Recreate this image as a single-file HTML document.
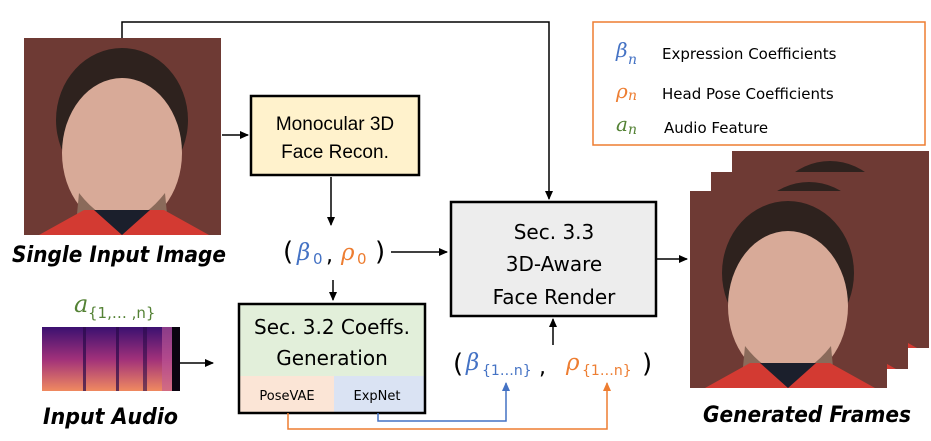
<!DOCTYPE html>
<html><head><meta charset="utf-8"><style>
html,body{margin:0;padding:0;background:#fff;}
svg{display:block;}
text{font-family:"Liberation Sans",sans-serif;}
.c{font-family:"DejaVu Sans","Liberation Sans",sans-serif;}
.m{font-family:"DejaVu Serif","Liberation Serif",serif;font-style:italic;}
</style></head><body>
<svg width="931" height="441" viewBox="0 0 931 441" xmlns="http://www.w3.org/2000/svg">
<defs>
<marker id="ab" markerWidth="10" markerHeight="10" refX="8" refY="4" orient="auto" markerUnits="userSpaceOnUse"><path d="M0,0 L9,4 L0,8 z" fill="#000"/></marker>
<marker id="abl" markerWidth="10" markerHeight="10" refX="8" refY="4" orient="auto" markerUnits="userSpaceOnUse"><path d="M0,0 L9,4 L0,8 z" fill="#4472c4"/></marker>
<marker id="aor" markerWidth="10" markerHeight="10" refX="8" refY="4" orient="auto" markerUnits="userSpaceOnUse"><path d="M0,0 L9,4 L0,8 z" fill="#ed7d31"/></marker>
<linearGradient id="sp" x1="0" y1="0" x2="0" y2="1"><stop offset="0" stop-color="#3b1070"/><stop offset="0.5" stop-color="#a0307a"/><stop offset="1" stop-color="#f08a60"/></linearGradient>
<g id="face">
<rect x="0" y="0" width="197" height="197" fill="#6e3a34"/>
<ellipse cx="98" cy="82" rx="66" ry="72" fill="#2e221e"/>
<ellipse cx="98" cy="115" rx="60" ry="75" fill="#d8aa98"/>
<path d="M55,155 Q98,210 141,155 L145,197 L51,197 z" fill="#8a6a5a"/>
<path d="M15,197 L60,172 L140,172 L185,197 z" fill="#d33a32"/>
<path d="M70,172 L98,197 L126,172 z" fill="#1b1f2c"/>
</g>
</defs>

<use href="#face" x="24" y="38"/>
<text x="12" y="262" font-size="22" font-weight="bold" font-style="italic" class="c" textLength="214" lengthAdjust="spacingAndGlyphs">Single Input Image</text>

<polyline points="122,38 122,22 549,22 549,199" fill="none" stroke="#000" stroke-width="1.5" marker-end="url(#ab)"/>

<line x1="222" y1="135" x2="248" y2="135" stroke="#000" stroke-width="1.5" marker-end="url(#ab)"/>
<rect x="251" y="96" width="168" height="79" fill="#fff2cc" stroke="#000" stroke-width="2.5"/>
<text x="335" y="130" font-size="19" text-anchor="middle">Monocular 3D</text>
<text x="335" y="158" font-size="19" text-anchor="middle">Face Recon.</text>
<line x1="331" y1="177" x2="331" y2="225" stroke="#000" stroke-width="1.5" marker-end="url(#ab)"/>

<text x="283" y="260" font-size="26" class="c">(</text>
<text x="297" y="260" font-size="23" class="m" fill="#4472c4">β</text>
<text x="313" y="264" font-size="15" class="c" fill="#4472c4">0</text>
<text x="326" y="262" font-size="22" class="c">,</text>
<text x="341" y="260" font-size="23" class="m" fill="#ed7d31">ρ</text>
<text x="357" y="264" font-size="15" class="c" fill="#ed7d31">0</text>
<text x="375" y="260" font-size="26" class="c">)</text>
<line x1="391" y1="252" x2="447" y2="252" stroke="#000" stroke-width="1.5" marker-end="url(#ab)"/>
<line x1="333" y1="280" x2="333" y2="300" stroke="#000" stroke-width="1.5" marker-end="url(#ab)"/>

<rect x="451" y="202" width="205" height="114" fill="#ededed" stroke="#000" stroke-width="2.5"/>
<text x="554" y="239" font-size="20" text-anchor="middle" class="c">Sec. 3.3</text>
<text x="554" y="271" font-size="20" text-anchor="middle" class="c">3D-Aware</text>
<text x="554" y="304" font-size="20" text-anchor="middle" class="c">Face Render</text>
<line x1="657" y1="259" x2="687" y2="259" stroke="#000" stroke-width="1.5" marker-end="url(#ab)"/>
<line x1="553" y1="345" x2="553" y2="319" stroke="#000" stroke-width="1.5" marker-end="url(#ab)"/>

<text x="74" y="312" font-size="24" class="m" fill="#548235">a</text>
<text x="88" y="318" font-size="15" class="c" fill="#548235">{1,… ,n}</text>
<rect x="42" y="327" width="138" height="64" fill="url(#sp)"/>
<rect x="83" y="327" width="3" height="64" fill="#2a0a4a" opacity="0.7"/>
<rect x="116" y="327" width="3" height="64" fill="#2a0a4a" opacity="0.7"/>
<rect x="143" y="327" width="4" height="64" fill="#2a0a4a" opacity="0.6"/>
<rect x="162" y="327" width="10" height="64" fill="#c05a9a" opacity="0.6"/>
<rect x="172" y="327" width="8" height="64" fill="#0a0410"/>
<line x1="180" y1="363" x2="213" y2="363" stroke="#000" stroke-width="1.5" marker-end="url(#ab)"/>
<text x="43" y="424" font-size="22" font-weight="bold" font-style="italic" class="c" textLength="135" lengthAdjust="spacingAndGlyphs">Input Audio</text>

<rect x="239" y="304" width="186" height="109" fill="#e2efda"/>
<rect x="239" y="376" width="95" height="37" fill="#fbe5d6"/>
<rect x="334" y="376" width="91" height="37" fill="#dae3f3"/>
<rect x="239" y="304" width="186" height="109" fill="none" stroke="#000" stroke-width="2.5"/>
<text x="332" y="334" font-size="20" text-anchor="middle" class="c">Sec. 3.2 Coeffs.</text>
<text x="332" y="365" font-size="20" text-anchor="middle" class="c">Generation</text>
<text x="287" y="400" font-size="13" text-anchor="middle" class="c">PoseVAE</text>
<text x="377" y="400" font-size="13" text-anchor="middle" class="c">ExpNet</text>

<polyline points="378,413 378,421 506,421 506,383" fill="none" stroke="#4472c4" stroke-width="1.5" marker-end="url(#abl)"/>
<polyline points="288,413 288,429 607,429 607,383" fill="none" stroke="#ed7d31" stroke-width="1.5" marker-end="url(#aor)"/>

<text x="453" y="372" font-size="26" class="c">(</text>
<text x="466" y="370" font-size="23" class="m" fill="#4472c4">β</text>
<text x="482" y="375" font-size="14" class="c" fill="#4472c4">{1…n}</text>
<text x="539" y="374" font-size="22" class="c">,</text>
<text x="566" y="370" font-size="23" class="m" fill="#ed7d31">ρ</text>
<text x="582" y="375" font-size="14" class="c" fill="#ed7d31">{1…n}</text>
<text x="642" y="372" font-size="26" class="c">)</text>

<rect x="593" y="22" width="332" height="123" fill="#fff" stroke="#ed7d31" stroke-width="1.5"/>
<text x="616" y="57" font-size="20" class="m" fill="#4472c4">β</text>
<text x="628" y="64" font-size="14" class="m" fill="#4472c4">n</text>
<text x="662" y="59" font-size="15" class="c">Expression Coefficients</text>
<text x="616" y="98" font-size="20" class="m" fill="#ed7d31">ρ</text>
<text x="628" y="100" font-size="14" class="m" fill="#ed7d31">n</text>
<text x="662" y="99" font-size="15" class="c">Head Pose Coefficients</text>
<text x="616" y="131" font-size="20" class="m" fill="#548235">a</text>
<text x="628" y="134" font-size="14" class="m" fill="#548235">n</text>
<text x="664" y="133" font-size="15" class="c">Audio Feature</text>

<use href="#face" x="732" y="151"/>
<use href="#face" x="711" y="172"/>
<use href="#face" x="690" y="191"/>
<text x="703" y="422" font-size="22" font-weight="bold" font-style="italic" class="c" textLength="208" lengthAdjust="spacingAndGlyphs">Generated Frames</text>
</svg>
</body></html>
